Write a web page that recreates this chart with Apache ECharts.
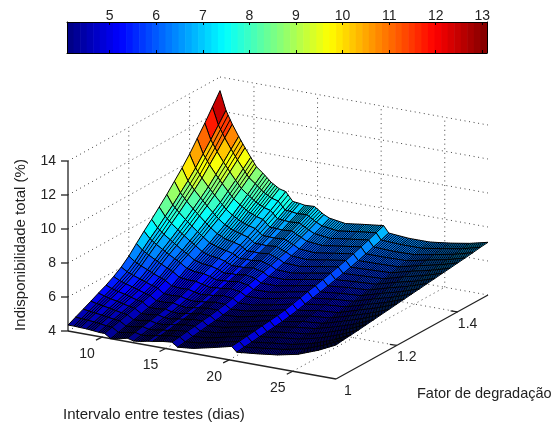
<!DOCTYPE html>
<html>
<head>
<meta charset="utf-8">
<style>html,body{margin:0;padding:0;background:#fff}#c{width:555px;height:426px}</style>
<script src="https://cdn.jsdelivr.net/npm/echarts@6/dist/echarts.min.js"></script>
</head>
<body>
<div id="c"></div>
<script>
// Interval between tests (days): one entry per surface column
var intervals = [7.33,7.8,8.3,8.8,9.3,9.75,10.2,10.7,11.35,12.0,12.5,13.05,13.6,14.0,14.75,15.5,15.95,17.2,18.7,20.2,20.6,22.2,23.8,25.4,27.0,28.4];
// Degradation factor: one entry per surface row
var factors = [1,1.025,1.05,1.075,1.1,1.125,1.15,1.175,1.2,1.225,1.25,1.275,1.3,1.325,1.35,1.375,1.4,1.425,1.45,1.475,1.5];
// Total unavailability (%), one row per interval, one value per factor
var unavailability = [
[4.35,4.57,4.79,5.01,5.24,5.46,5.72,6.03,6.43,6.92,7.40,7.85,8.33,8.82,9.35,9.88,10.46,11.12,11.78,12.49,13.2],
[4.35,4.54,4.74,4.93,5.13,5.32,5.55,5.82,6.17,6.60,7.02,7.41,7.84,8.26,8.73,9.19,9.70,10.28,10.86,11.48,12.1],
[4.33,4.51,4.68,4.86,5.03,5.21,5.42,5.66,5.98,6.37,6.75,7.10,7.49,7.88,8.30,8.72,9.17,9.70,10.23,10.79,11.35],
[4.32,4.48,4.64,4.80,4.96,5.12,5.31,5.53,5.82,6.17,6.52,6.84,7.19,7.54,7.92,8.31,8.72,9.20,9.68,10.19,10.7],
[4.28,4.43,4.57,4.72,4.86,5.01,5.18,5.39,5.65,5.97,6.29,6.58,6.90,7.22,7.57,7.92,8.30,8.73,9.17,9.63,10.1],
[4.25,4.38,4.52,4.65,4.79,4.92,5.08,5.27,5.51,5.80,6.10,6.36,6.66,6.95,7.27,7.59,7.94,8.34,8.74,9.17,9.6],
[4.24,4.36,4.48,4.60,4.73,4.85,4.99,5.16,5.38,5.65,5.92,6.16,6.43,6.69,6.99,7.28,7.59,7.96,8.32,8.71,9.1],
[4.0,4.12,4.24,4.36,4.48,4.60,4.74,4.91,5.13,5.39,5.66,5.90,6.16,6.42,6.71,7.0,7.31,7.67,8.03,8.42,8.8],
[4.08,4.19,4.29,4.40,4.51,4.61,4.74,4.89,5.08,5.32,5.55,5.77,6.0,6.24,6.49,6.75,7.03,7.35,7.67,8.01,8.35],
[4.2,4.30,4.39,4.49,4.59,4.68,4.80,4.93,5.10,5.32,5.53,5.72,5.93,6.14,6.38,6.61,6.86,7.15,7.43,7.74,8.05],
[4.1,4.20,4.29,4.39,4.49,4.58,4.70,4.83,5.0,5.22,5.43,5.62,5.83,6.04,6.28,6.51,6.76,7.05,7.33,7.64,7.95],
[4.15,4.23,4.32,4.40,4.48,4.56,4.66,4.78,4.93,5.11,5.29,5.45,5.64,5.82,6.01,6.21,6.43,6.67,6.92,7.19,7.45],
[4.24,4.32,4.40,4.48,4.56,4.64,4.73,4.84,4.98,5.16,5.33,5.49,5.66,5.84,6.03,6.22,6.42,6.66,6.89,7.15,7.4],
[4.28,4.36,4.43,4.51,4.59,4.66,4.76,4.86,5.0,5.17,5.34,5.49,5.66,5.83,6.01,6.20,6.40,6.63,6.86,7.10,7.35],
[4.38,4.46,4.53,4.61,4.68,4.76,4.85,4.95,5.09,5.25,5.42,5.57,5.73,5.90,6.08,6.26,6.45,6.68,6.90,7.14,7.38],
[4.44,4.50,4.57,4.63,4.70,4.76,4.84,4.93,5.04,5.18,5.32,5.45,5.59,5.73,5.89,6.04,6.21,6.40,6.59,6.80,7.0],
[4.2,4.27,4.33,4.40,4.47,4.53,4.61,4.70,4.82,4.97,5.11,5.25,5.39,5.54,5.70,5.86,6.03,6.23,6.43,6.64,6.85],
[4.3,4.36,4.42,4.48,4.54,4.60,4.67,4.76,4.86,5.0,5.13,5.25,5.38,5.51,5.66,5.80,5.96,6.14,6.32,6.51,6.7],
[4.55,4.61,4.67,4.72,4.78,4.84,4.91,4.99,5.09,5.22,5.34,5.46,5.59,5.71,5.85,5.99,6.14,6.31,6.48,6.67,6.85],
[4.82,4.87,4.93,4.98,5.04,5.09,5.15,5.23,5.33,5.45,5.57,5.67,5.79,5.91,6.04,6.17,6.31,6.47,6.63,6.81,6.98],
[4.53,4.58,4.63,4.69,4.74,4.79,4.85,4.92,5.02,5.13,5.24,5.35,5.46,5.58,5.70,5.82,5.96,6.11,6.27,6.43,6.6],
[4.65,4.72,4.78,4.85,4.91,4.98,5.06,5.13,5.21,5.30,5.39,5.48,5.58,5.67,5.76,5.87,5.98,6.11,6.22,6.37,6.5],
[4.8,4.87,4.92,4.99,5.04,5.11,5.17,5.24,5.31,5.40,5.48,5.57,5.65,5.74,5.82,5.92,6.02,6.14,6.25,6.38,6.5],
[5.05,5.13,5.19,5.27,5.35,5.43,5.51,5.59,5.67,5.75,5.83,5.91,5.99,6.07,6.15,6.23,6.31,6.39,6.47,6.57,6.65],
[5.5,5.57,5.62,5.69,5.76,5.82,5.89,5.96,6.03,6.09,6.16,6.23,6.30,6.36,6.43,6.50,6.57,6.63,6.70,6.78,6.85],
[6.0,6.06,6.10,6.15,6.21,6.26,6.32,6.37,6.43,6.48,6.54,6.59,6.65,6.70,6.76,6.81,6.87,6.92,6.98,7.05,7.1]
];
// Columns that start a wide, unhatched band of the mesh
var wideBandStarts = [7.33,8.3,9.3,10.2,12.0,13.6,15.5,20.2];
var tTicks = [10,15,20,25];
var fTicks = [1,1.2,1.4];
var zTicks = [4,6,8,10,12,14];
var colorbarTicks = [5,6,7,8,9,10,11,12,13];
var colorMin = 4.086, colorMax = 13.1, colorLevels = 64;
var levels = [];
for (var l = 0; l < colorLevels; l++) levels.push(l);

// View of the 3D box
var tMin = 7.33, tMax = 28.4, fMin = 1, fMax = 1.5, zMin = 4, zMax = 14;
var origin = [68, 331], tVec = [268, 48], fVec = [152, -84], zPx = 17;
function project(t, f, z) {
  var a = (t - tMin) / (tMax - tMin), b = (f - fMin) / (fMax - fMin);
  return [origin[0] + a * tVec[0] + b * fVec[0], origin[1] + a * tVec[1] + b * fVec[1] - (z - zMin) * zPx];
}
function jet(v) {
  var x = Math.max(0, Math.min(1, v));
  function c(d) { return Math.round(255 * Math.max(0, Math.min(1, 1.5 - Math.abs(4 * x - d)))); }
  return 'rgb(' + c(3) + ',' + c(2) + ',' + c(1) + ')';
}
function levelColor(z) {
  var i = Math.min(colorLevels - 1, Math.floor((z - colorMin) / (colorMax - colorMin) * colorLevels));
  return jet((Math.max(i, 0) + 0.5) / colorLevels);
}

var cells = [];
for (var fi = factors.length - 2; fi >= 0; fi--)
  for (var ti = 0; ti < intervals.length - 1; ti++) cells.push([ti, fi]);

var TXT = '#222', TICKFONT = '14px "Liberation Sans", Arial, sans-serif', FONT = '15px "Liberation Sans", Arial, sans-serif', DOT = '#444';

function seg(api, a, b, style) {
  var p = api.coord(a), q = api.coord(b);
  return { type: 'line', shape: { x1: p[0], y1: p[1], x2: q[0], y2: q[1] }, style: style };
}
function renderGrid(params, api) {
  var d = { stroke: DOT, lineWidth: 1, lineDash: [1, 3.6], fill: null };
  var ch = [];
  tTicks.forEach(function (t) {
    ch.push(seg(api, project(t, fMin, zMin), project(t, fMax, zMin), d));
    ch.push(seg(api, project(t, fMax, zMin), project(t, fMax, zMax), d));
  });
  fTicks.forEach(function (f) {
    if (f === fMin) return;
    ch.push(seg(api, project(tMin, f, zMin), project(tMax, f, zMin), d));
    ch.push(seg(api, project(tMin, f, zMin), project(tMin, f, zMax), d));
  });
  zTicks.forEach(function (z) {
    if (z > zMin) ch.push(seg(api, project(tMin, fMin, z), project(tMin, fMax, z), d));
    if (z > zMin) ch.push(seg(api, project(tMin, fMax, z), project(tMax, fMax, z), d));
  });
  ch.push(seg(api, project(tMin, fMin, zMin), project(tMin, fMax, zMin), d));
  ch.push(seg(api, project(tMin, fMax, zMin), project(tMax, fMax, zMin), d));
  return { type: 'group', children: ch };
}
function renderCell(params, api) {
  var ti = api.value(0), fi = api.value(1);
  var t0 = intervals[ti], t1 = intervals[ti + 1], f0 = factors[fi], f1 = factors[fi + 1];
  var z00 = unavailability[ti][fi], z10 = unavailability[ti + 1][fi], z01 = unavailability[ti][fi + 1], z11 = unavailability[ti + 1][fi + 1];
  var a = api.coord(project(t0, f0, z00)), b = api.coord(project(t1, f0, z10)), c = api.coord(project(t1, f1, z11)), e = api.coord(project(t0, f1, z01));
  var ch = [{ type: 'polygon', shape: { points: [a, b, c, e] }, style: { fill: levelColor(z00), stroke: '#000', lineWidth: 1 } }];
  if (wideBandStarts.indexOf(t0) < 0) {
    var n = Math.max(1, Math.round((b[0] - a[0]) / 2.1) - 1);
    for (var k = 1; k <= n; k++) {
      var u = k / (n + 1);
      ch.push({ type: 'line', shape: { x1: a[0] + (b[0] - a[0]) * u, y1: a[1] + (b[1] - a[1]) * u, x2: e[0] + (c[0] - e[0]) * u, y2: e[1] + (c[1] - e[1]) * u }, style: { stroke: '#000', lineWidth: 1 } });
    }
  }
  return { type: 'group', children: ch };
}
function label(api, pos, dx, dy, text, align) {
  var p = api.coord(pos);
  return { type: 'text', x: p[0] + dx, y: p[1] + dy, style: { text: text, font: TICKFONT, fill: TXT, textAlign: align || 'center', textVerticalAlign: 'middle' } };
}
function renderAxes(params, api) {
  var s = { stroke: '#222', lineWidth: 1.3 }, ch = [];
  ch.push(seg(api, project(tMin, fMin, zMin), project(tMin, fMin, zMax), s));
  ch.push(seg(api, project(tMin, fMin, zMin), project(tMax, fMin, zMin), s));
  ch.push(seg(api, project(tMax, fMin, zMin), project(tMax, fMax, zMin), s));
  zTicks.forEach(function (z) {
    var p = project(tMin, fMin, z);
    ch.push(seg(api, p, [p[0] - 7, p[1]], s));
    ch.push(label(api, p, -12, 0, String(z), 'right'));
  });
  tTicks.forEach(function (t) {
    var p = project(t, fMin, zMin);
    ch.push(seg(api, p, [p[0] - 6, p[1] + 3], s));
    ch.push(label(api, p, -15, 17, String(t)));
  });
  fTicks.forEach(function (f) {
    var p = project(tMax, f, zMin);
    if (f !== fMin) ch.push(seg(api, p, [p[0] - 7, p[1] - 1], s));
    ch.push(label(api, p, f === fMin ? 12 : 10, 12, String(f)));
  });
  return { type: 'group', children: ch };
}
function renderLevel(params, api) {
  var l = api.value(0), w = (colorMax - colorMin) / colorLevels;
  var p = api.coord([colorMin + l * w, 1]), q = api.coord([colorMin + (l + 1) * w, 0]);
  return { type: 'rect', shape: { x: p[0], y: p[1], width: q[0] - p[0] + 0.6, height: q[1] - p[1] }, style: { fill: jet((l + 0.5) / colorLevels) } };
}

var barAxis = { type: 'value', gridIndex: 0, min: colorMin, max: colorMax, z: 10,
  axisLine: { show: true, onZero: false, lineStyle: { color: '#000', width: 1 } },
  axisTick: { show: true, inside: true, length: 3, customValues: colorbarTicks, lineStyle: { color: '#000' } },
  splitLine: { show: false } };
var chart = echarts.init(document.getElementById('c'), null, { renderer: 'canvas' });
chart.setOption({
  animation: false,
  backgroundColor: '#fff',
  grid: [
    { left: 67, top: 22, width: 420, height: 31 },
    { left: 0, top: 0, width: 555, height: 426 }
  ],
  xAxis: [
    Object.assign({}, barAxis, { position: 'top', axisLabel: { show: true, customValues: colorbarTicks, margin: -1, color: TXT, fontSize: 14, fontFamily: 'Liberation Sans' } }),
    Object.assign({}, barAxis, { position: 'bottom', axisLabel: { show: false } }),
    { type: 'value', gridIndex: 1, min: 0, max: 555, show: false, splitLine: { show: false } }
  ],
  yAxis: [
    { type: 'value', gridIndex: 0, min: 0, max: 1, z: 10, position: 'left', axisLine: { show: true, onZero: false, lineStyle: { color: '#000' } }, axisTick: { show: false }, axisLabel: { show: false }, splitLine: { show: false } },
    { type: 'value', gridIndex: 0, min: 0, max: 1, z: 10, position: 'right', axisLine: { show: true, onZero: false, lineStyle: { color: '#000' } }, axisTick: { show: false }, axisLabel: { show: false }, splitLine: { show: false } },
    { type: 'value', gridIndex: 1, min: 0, max: 426, inverse: true, show: false, splitLine: { show: false } }
  ],
  graphic: [
    { type: 'text', x: 21, y: 245, rotation: Math.PI / 2, style: { text: 'Indisponibilidade total (%)', font: FONT, fill: TXT, textAlign: 'center', textVerticalAlign: 'middle' } },
    { type: 'text', x: 63, y: 415, style: { text: 'Intervalo entre testes (dias)', font: FONT, fill: TXT, textAlign: 'left', textVerticalAlign: 'middle' } },
    { type: 'text', x: 417, y: 394, style: { text: 'Fator de degradação', font: '14.5px "Liberation Sans", Arial, sans-serif', fill: TXT, textAlign: 'left', textVerticalAlign: 'middle' } }
  ],
  series: [
    { type: 'custom', xAxisIndex: 0, yAxisIndex: 0, data: levels.map(function (l) { return [l]; }), renderItem: renderLevel, silent: true, clip: false, z: 2 },
    { type: 'custom', xAxisIndex: 2, yAxisIndex: 2, data: [[0]], renderItem: renderGrid, silent: true, clip: false, z: 3 },
    { type: 'custom', xAxisIndex: 2, yAxisIndex: 2, data: [[0]], renderItem: renderAxes, silent: true, clip: false, z: 4 },
    { type: 'custom', xAxisIndex: 2, yAxisIndex: 2, data: cells, renderItem: renderCell, silent: true, clip: false, z: 5, progressive: 0 }
  ]
});
</script>
</body>
</html>
